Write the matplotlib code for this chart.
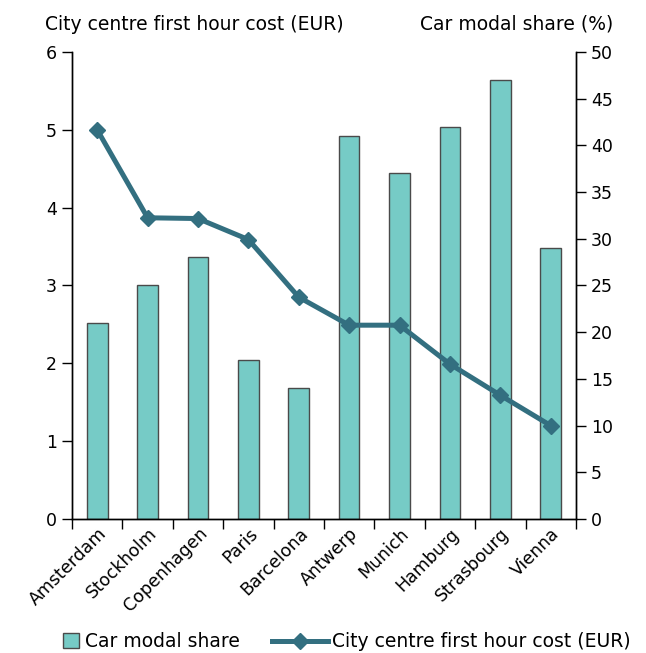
import matplotlib.pyplot as plt
from matplotlib.lines import Line2D
from matplotlib.patches import Patch
import numpy as np

cities = ['Amsterdam', 'Stockholm', 'Copenhagen', 'Paris', 'Barcelona',
          'Antwerp', 'Munich', 'Hamburg', 'Strasbourg', 'Vienna']
modal_share = [21, 25, 28, 17, 14, 41, 37, 42, 47, 29]
hour_cost = [5.0, 3.87, 3.86, 3.59, 2.85, 2.49, 2.49, 1.99, 1.59, 1.20]

bar_color = '#76cbc6'
line_color = '#336f80'
edge_color = '#4a4a4a'

plt.rcParams['font.family'] = 'DejaVu Sans'

fig = plt.figure(figsize=(6.46, 6.53), dpi=100)
ax = fig.add_axes([0.1115, 0.2052, 0.78, 0.7152])
ax2 = ax.twinx()

x = np.arange(len(cities))
ax2.bar(x, modal_share, width=0.41, color=bar_color, edgecolor=edge_color, linewidth=1)
ax.plot(x, hour_cost, color=line_color, linewidth=3.6, marker='D', markersize=8.5)
ax.set_zorder(ax2.get_zorder() + 1)
ax.patch.set_visible(False)

ax.set_xlim(-0.5, len(cities) - 0.5)
ax.set_ylim(0, 6)
ax2.set_ylim(0, 50)
ax.set_yticks(range(0, 7))
ax2.set_yticks(range(0, 51, 5))

ax.set_xticks(x)
ax.set_xticklabels(cities, rotation=45, ha='right', rotation_mode='anchor')
ax.set_xticks(np.arange(-0.5, len(cities)), minor=True)
ax.tick_params(axis='x', which='major', length=0, pad=4, labelsize=12.5)
ax.tick_params(axis='x', which='minor', length=7, width=1)
ax.tick_params(axis='y', length=7, width=1, labelsize=12.5, pad=4)
ax2.tick_params(axis='y', length=7, width=1, labelsize=12.5, pad=4)

for a in (ax, ax2):
    a.spines['top'].set_visible(False)
    for s in ('left', 'right', 'bottom'):
        a.spines[s].set_linewidth(1)

fig.text(0.07, 0.963, 'City centre first hour cost (EUR)', fontsize=13.5, ha='left', va='center')
fig.text(0.949, 0.963, 'Car modal share (%)', fontsize=13.5, ha='right', va='center')

# two legends so the square and the line handle keep their own widths
bar_handle = Patch(facecolor=bar_color, edgecolor=edge_color)
line_handle = Line2D([], [], color=line_color, linewidth=3.6, marker='D', markersize=8.5)
leg1 = fig.legend([bar_handle], ['Car modal share'], loc='center left',
                  bbox_to_anchor=(0.0975, 0.017), frameon=False, fontsize=13.5,
                  handlelength=0.85, handleheight=0.85, handletextpad=0.3,
                  borderpad=0, borderaxespad=0)
leg2 = fig.legend([line_handle], ['City centre first hour cost (EUR)'], loc='center left',
                  bbox_to_anchor=(0.421, 0.017), frameon=False, fontsize=13.5,
                  handlelength=3.0, handletextpad=0.2, borderpad=0, borderaxespad=0)

fig.savefig('out.png', dpi=100)
